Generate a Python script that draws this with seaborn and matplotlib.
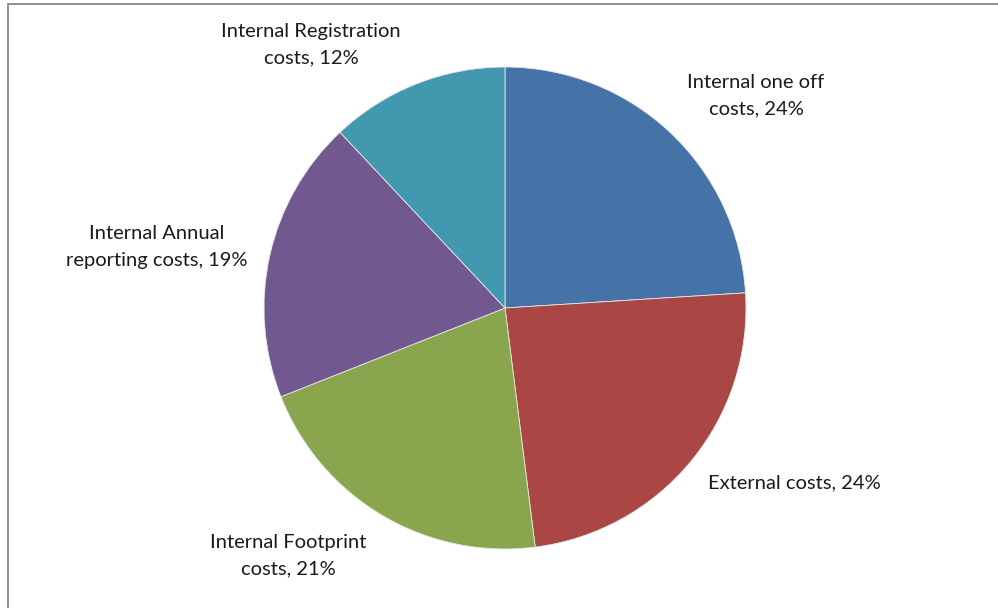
import matplotlib
matplotlib.use("Agg")
import matplotlib.pyplot as plt
from matplotlib.patches import Rectangle
import seaborn as sns

# Cost breakdown (share of total, %)
categories = [
    "Internal one off costs",
    "External costs",
    "Internal Footprint costs",
    "Internal Annual reporting costs",
    "Internal Registration costs",
]
shares = [24, 24, 21, 19, 12]
label_texts = [
    "Internal one off\ncosts, 24%",
    "External costs, 24%",
    "Internal Footprint\ncosts, 21%",
    "Internal Annual\nreporting costs, 19%",
    "Internal Registration\ncosts, 12%",
]
slice_colors = ["#4572A7", "#AA4643", "#89A54E", "#71588F", "#4198AF"]

sns.set_theme(style="white")
plt.rcParams["font.family"] = ["Lato", "DejaVu Sans"]

W, H, DPI = 998, 608, 100
fig = plt.figure(figsize=(W / DPI, H / DPI), dpi=DPI)
ax = fig.add_axes([0, 0, 1, 1])

# pie geometry in pixels
cx, cy, r = 505, 308, 241

palette = sns.color_palette(slice_colors)
ax.pie(shares, colors=palette, startangle=90, counterclock=False, radius=1,
       wedgeprops=dict(linewidth=0.6, edgecolor="#e8e8e8"), frame=False)
ax.set_xlim(-cx / r, (W - cx) / r)
ax.set_ylim(-(H - cy) / r, cy / r)
ax.set_aspect("auto")
ax.axis("off")

# label anchor points (pixel positions of text centres)
label_px = [(756, 96), (794, 483), (288, 556), (157, 247), (311, 45)]
for txt, (px, py) in zip(label_texts, label_px):
    ax.text((px - cx) / r, (cy - py) / r, txt, ha="center", va="center",
            fontsize=14.5, color="#1a1a1a", linespacing=1.65)

# chart-area frame
fig.patches.append(Rectangle((7.5 / W, -0.1), 1.2, 1 - 3.5 / H + 0.1,
                             transform=fig.transFigure, fill=False,
                             edgecolor="#888888", linewidth=1.3))

fig.savefig("out.png", dpi=DPI, facecolor="white")
